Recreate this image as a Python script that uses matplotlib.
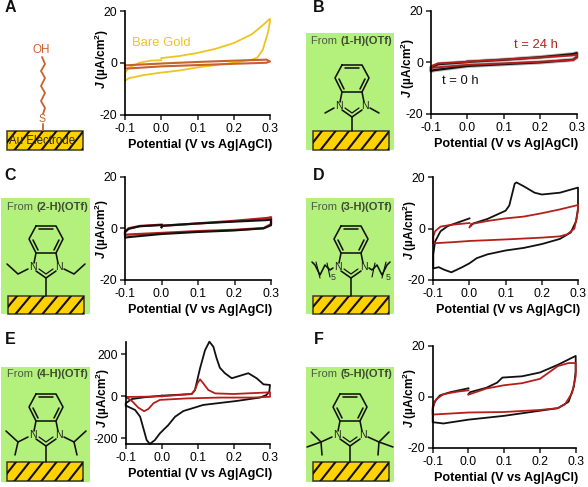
#!/usr/bin/env python3
"""Six cyclic voltammetry panels with surface schematics."""

import matplotlib
matplotlib.use("Agg")
import matplotlib.pyplot as plt
from matplotlib.patches import Rectangle

plt.rcParams["font.family"] = ["Liberation Sans", "DejaVu Sans"]
plt.rcParams["axes.unicode_minus"] = False
plt.rcParams["mathtext.fontset"] = "custom"
plt.rcParams["mathtext.rm"] = "Liberation Sans:bold"
plt.rcParams["mathtext.bf"] = "Liberation Sans:bold"
plt.rcParams["mathtext.it"] = "Liberation Sans:italic:bold"

W, H = 588, 487

# ---------------------------------------------------------------------------
# Data
# ---------------------------------------------------------------------------

X_TICKS = [-0.1, 0.0, 0.1, 0.2, 0.3]
Y_TICKS = [-20, 0, 20]
E_TICKS = [-200, 0, 200]

a_gold_v = [0, 0.05, 0.1, 0.15, 0.2, 0.25, 0.28, 0.3, 0.3, 0.295, 0.28, 0.265, 0.25, 0.2, 0.15, 0.1, 0.05, 0, -0.05, -0.09, -0.1, -0.1, -0.09, -0.06, -0.03, 0]
a_gold_j = [1.8, 2.6, 3.8, 5.4, 7.6, 11, 14.5, 17, 16, 12, 5, 2, 1.2, 0, -0.9, -1.8, -3, -3.8, -4.8, -6, -7, -4, -2, 0, 0.8, 1]
a_sam_v = [-0.1, 0, 0.1, 0.2, 0.29, 0.3, 0.29, 0.2, 0.1, 0, -0.09, -0.1, -0.1]
a_sam_j = [-1.0, -0.3, 0.3, 0.8, 1.2, 0.5, 0.0, -0.4, -0.9, -1.4, -2.2, -2.2, -1.0]

b_black_v = [0, 0.1, 0.2, 0.29, 0.3, 0.3, 0.29, 0.2, 0.1, 0, -0.09, -0.1, -0.1, -0.08, 0]
b_black_j = [0.2, 1.0, 2.0, 3.2, 3.6, 2, 1, 0, -0.7, -1.4, -3, -3.3, -2, -0.7, 0.1]
b_red_v = [0, 0.1, 0.2, 0.29, 0.3, 0.3, 0.29, 0.2, 0.1, 0, -0.09, -0.1, -0.1, -0.08, 0]
b_red_j = [0.3, 1.1, 1.9, 2.7, 3.0, 1.8, 0.9, 0.2, -0.4, -1.0, -2, -2.2, -1.5, -0.4, 0.2]

c_black_v = [0, 0.002, 0.1, 0.2, 0.29, 0.3, 0.3, 0.28, 0.2, 0.1, 0, -0.09, -0.1, -0.1, -0.09, -0.06, 0]
c_black_j = [0.4, 1.0, 1.9, 2.6, 3.2, 3.4, 1.2, 0, -0.8, -1.4, -2.2, -3.4, -3.6, -1.5, -0.2, 0.8, 1.3]
c_red_v = [0, 0.002, 0.1, 0.2, 0.29, 0.3, 0.3, 0.28, 0.2, 0.1, 0, -0.09, -0.1, -0.1, -0.09, -0.06, 0]
c_red_j = [0.5, 1.0, 1.9, 2.9, 4.0, 4.3, 1.6, 0.1, -0.6, -1.1, -1.8, -2.4, -2.5, -1.2, 0, 0.9, 1.4]

d_black_v = [0.003, 0.01, 0.05, 0.1, 0.11, 0.125, 0.13, 0.15, 0.18, 0.2, 0.25, 0.3, 0.3, 0.295, 0.28, 0.25, 0.2, 0.15, 0.1, 0.05, 0.02, 0, -0.02, -0.05, -0.07, -0.085, -0.1, -0.1, -0.095, -0.08, -0.06, -0.03, 0]
d_black_j = [1, 2, 3.8, 7, 9, 17.5, 18, 16.5, 14, 13.3, 14, 16, 8, 3, -1.5, -4, -6, -7.5, -8.5, -10, -11.5, -13.5, -15, -17, -16, -15, -15.5, -10, -5, -1, 1, 2.5, 4]
d_red_v = [0, 0.005, 0.05, 0.1, 0.15, 0.2, 0.25, 0.3, 0.3, 0.29, 0.27, 0.25, 0.2, 0.1, 0, -0.05, -0.1, -0.1, -0.095, -0.08, -0.05, 0]
d_red_j = [0.5, 1.8, 3, 4, 4.7, 6, 7.5, 9.2, 7, 0, -2.2, -3, -3.5, -4.2, -4.8, -5.3, -5.7, -3, -1, 0.8, 1.5, 2.2]

e_black_v = [0, 0.083, 0.092, 0.106, 0.12, 0.132, 0.143, 0.152, 0.161, 0.175, 0.194, 0.217, 0.24, 0.263, 0.282, 0.3, 0.298, 0.29, 0.272, 0.208, 0.115, 0.06, 0.037, 0.018, -0.005, -0.019, -0.033, -0.042, -0.051, -0.06, -0.074, -0.1, -0.1, -0.083, -0.05, 0]
e_black_j = [3, 11, 30, 133, 220, 260, 236, 181, 136, 110, 86, 98, 110, 86, 57, 54, 22, 6, -6, -22, -41, -70, -97, -137, -176, -208, -227, -208, -152, -97, -65, -44, -33, -13, -5, 3]
e_red_v = [0, 0.083, 0.092, 0.099, 0.106, 0.115, 0.129, 0.148, 0.198, 0.3, 0.3, 0.254, 0.161, 0.069, -0.005, -0.023, -0.037, -0.049, -0.065, -0.083, -0.1, -0.05, 0]
e_red_j = [0, 11, 30, 62, 81, 62, 30, 14, 11, 19, -2, -6, -6, -10, -17, -33, -60, -71, -54, -22, -3, -2, 0]

f_black_v = [0, 0.005, 0.05, 0.08, 0.095, 0.15, 0.2, 0.25, 0.3, 0.3, 0.295, 0.28, 0.25, 0.2, 0.1, 0, -0.07, -0.1, -0.1, -0.095, -0.08, -0.05, 0]
f_black_j = [1, 1.8, 3.5, 5.5, 7.5, 8, 9.5, 12.5, 16, 10, 4, -2, -4.5, -5.5, -7.5, -9, -10.5, -10, -5, -2, 0.5, 1.8, 3.3]
f_red_v = [0, 0.05, 0.1, 0.15, 0.2, 0.25, 0.28, 0.3, 0.3, 0.29, 0.27, 0.25, 0.2, 0.1, 0, -0.1, -0.1, -0.09, -0.07, -0.03, 0]
f_red_j = [0.8, 3.2, 4.5, 5.3, 7, 12, 13.2, 13.2, 8, 1.5, -3, -4.5, -5.2, -6, -6.2, -7, -4, -1, 1, 2, 2.5]

GOLD = "#EDC51E"
SAM = "#C8622C"
BLACK = "#111111"
RED = "#B3201C"
GREEN = "#B4F07C"
PLATE = "#FFD200"
LABEL = "#4E5A40"

# ---------------------------------------------------------------------------
# Helpers
# ---------------------------------------------------------------------------

fig = plt.figure(figsize=(W / 100, H / 100), dpi=100)

# overlay in pixel coordinates for the schematics and panel letters
ov = fig.add_axes([0, 0, 1, 1])
ov.set_xlim(0, W)
ov.set_ylim(H, 0)
ov.axis("off")


def cv_axes(left, right, top, bottom, ylim, yticks, label_y):
    width = right - left
    height = bottom - top
    ax = fig.add_axes([left / W, 1 - bottom / H, width / W, height / H])
    ax.patch.set_alpha(0)
    ax.set_xlim(-0.1, 0.3)
    ax.set_ylim(*ylim)
    ax.set_xticks(X_TICKS, [f"{v:.1f}" for v in X_TICKS])
    ax.set_yticks(yticks)
    ax.tick_params(labelsize=8.8, length=3.3, width=1.1, pad=2.5, color="#222222")
    for side in ("top", "right"):
        ax.spines[side].set_visible(False)
    for side in ("left", "bottom"):
        ax.spines[side].set_linewidth(1.2)
    ax.set_xlabel("Potential (V vs Ag|AgCl)", fontsize=9.1, fontweight="bold", va="center")
    ax.xaxis.set_label_coords(0.515, -30.5 / height)
    ax.set_ylabel(r"$\mathit{J}$ (µA/cm$^{\mathbf{2}}$)", fontsize=8.6, fontweight="bold", va="center")
    ax.yaxis.set_label_coords(-23 / width, label_y)
    return ax


def trace(ax, v, j, color, lw=1.3, **kw):
    ax.plot(v, j, color=color, lw=lw, clip_on=False, solid_joinstyle="round", **kw)


def seg(pts, color=BLACK, lw=1.15):
    ov.plot([p[0] for p in pts], [p[1] for p in pts], color=color, lw=lw,
            solid_capstyle="round", solid_joinstyle="round")


def plate(x0, x1, y0, y1):
    box = Rectangle((x0, y0), x1 - x0, y1 - y0, fc=PLATE, ec="#3A3A2A", lw=1.1, zorder=2)
    ov.add_patch(box)
    x = x0 - 6
    while x < x1:
        line, = ov.plot([x, x + 15], [y1, y0], color=BLACK, lw=1.5, zorder=3)
        line.set_clip_path(box)
        x += 13.5


def molecule(cx, cy, lift, kind):
    # cx, cy is where the stalk meets the plate; lift makes the stalk longer
    def p(x, y):
        return (cx + x, cy + y - lift)

    hexagon = [(-10, -66), (10, -66), (17, -53), (10, -39), (-10, -39), (-17, -53), (-10, -66)]
    seg([p(*q) for q in hexagon])
    seg([p(-7, -63), p(7, -63)])
    seg([p(-13, -52), p(-8, -42)])
    seg([p(13, -52), p(8, -42)])
    seg([p(-10, -39), p(-12, -29)])
    seg([p(10, -39), p(12, -29)])
    seg([p(-10, -21), p(0, -14), p(10, -21)])
    seg([p(-7, -23), p(0, -18), p(7, -23)], lw=0.9)
    seg([(cx, cy - 14 - lift), (cx, cy)])
    for s in (-1, 1):
        ov.text(*p(s * 13, -25), "N", fontsize=7.6, ha="center", va="center", color="#222222")
        if kind == "me":
            seg([p(s * 18, -23), p(s * 27, -18)])
        elif kind == "et":
            seg([p(s * 18, -23), p(s * 28, -18), p(s * 39, -28)])
        elif kind == "hex":
            seg([p(s * 18, -24), p(s * 21, -22), p(s * 26, -27), p(s * 31, -17), p(s * 36, -27), p(s * 39, -30)])
            seg([p(s * 24, -29), p(s * 21, -15)], lw=0.8)
            seg([p(s * 35, -30), p(s * 31, -14)], lw=0.8)
            lab = p(-18, -14) if s < 0 else p(37, -14)
            ov.text(*lab, "5", fontsize=6.4, ha="center", va="center", color="#333333")
        elif kind == "ipr":
            seg([p(s * 18, -23), p(s * 28, -18), p(s * 40, -29)])
            seg([p(s * 28, -18), p(s * 31, -5)])
        elif kind == "tbu":
            seg([p(s * 18, -23), p(s * 29, -18), p(s * 39, -28)])
            seg([p(s * 29, -18), p(s * 43, -13)])
            seg([p(s * 29, -18), p(s * 28, -5)])


def green_panel(x0, x1, y0, y1, text_x, text_y, bold):
    ov.add_patch(Rectangle((x0, y0), x1 - x0, y1 - y0, fc=GREEN, ec="none", zorder=0))
    t = ov.text(text_x, text_y, "From ", fontsize=8, color=LABEL, va="center")
    ov.annotate(bold, xy=(1, 0.5), xycoords=t, fontsize=8, fontweight="bold",
                color="#3E4A34", va="center")


def letter(x, y, s):
    ov.text(x, y, s, fontsize=11.5, fontweight="bold", ha="center", va="center", color=BLACK)


# ---------------------------------------------------------------------------
# Schematics
# ---------------------------------------------------------------------------

letter(10, 8, "A")
letter(319, 8, "B")
letter(10, 175, "C")
letter(319, 175, "D")
letter(10, 340, "E")
letter(319, 340, "F")

plate(7, 83, 131, 150)
ov.text(42, 141.5, "Au Electrode", fontsize=8.3, ha="center", va="center", color="#2E2A10", zorder=4)
seg([(43, 131), (43, 124)], SAM, lw=1.3)
ov.text(42.5, 119, "S", fontsize=7.6, ha="center", va="center", color=SAM)
seg([(43, 114), (45, 108), (41, 101), (45, 93), (41, 86), (45, 78), (41, 71), (45, 64), (42, 57)], SAM, lw=1.3)
ov.text(41, 50, "OH", fontsize=8.4, ha="center", va="center", color=SAM)

green_panel(306, 394, 33, 150, 311, 41, "(1-H)(OTf)")
plate(313, 389, 131, 150)
molecule(352, 131, 0, "me")

green_panel(1, 90, 198, 314, 7, 207, "(2-H)(OTf)")
plate(8, 84, 296, 314)
molecule(46, 296, 4, "et")

green_panel(306, 394, 198, 314, 311, 207, "(3-H)(OTf)")
plate(313, 389, 296, 314)
molecule(351, 296, 4, "hex")

green_panel(1, 90, 367, 482, 7, 374, "(4-H)(OTf)")
plate(7, 83, 462, 481)
molecule(46, 462, 2, "ipr")

green_panel(306, 394, 367, 482, 311, 374, "(5-H)(OTf)")
plate(313, 389, 462, 481)
molecule(350, 462, 2, "tbu")

# ---------------------------------------------------------------------------
# CV panels
# ---------------------------------------------------------------------------

ax = cv_axes(125, 270, 11, 114.5, (-20, 20), Y_TICKS, 0.536)
trace(ax, a_gold_v, a_gold_j, GOLD)
trace(ax, a_sam_v, a_sam_j, SAM, lw=1.5)
ax.text(0.0, 7.8, "Bare Gold", fontsize=9.4, color=GOLD, ha="center", va="center")

ax = cv_axes(431, 576.7, 10.7, 114, (-20, 20), Y_TICKS, 0.45)
trace(ax, b_black_v, b_black_j, "#BBBBBB", lw=3)
trace(ax, b_black_v, b_black_j, BLACK, lw=1.6)
trace(ax, b_red_v, b_red_j, RED, lw=1.4)
ax.text(0.187, 6.7, "t = 24 h", fontsize=9.4, color=RED, ha="center", va="center")
ax.text(-0.02, -7.4, "t = 0 h", fontsize=9.4, color=BLACK, ha="center", va="center")

ax = cv_axes(125, 271, 176.7, 280, (-20, 20), Y_TICKS, 0.495)
trace(ax, c_red_v, c_red_j, RED, lw=1.7)
trace(ax, c_black_v, c_black_j, BLACK, lw=1.5)

ax = cv_axes(433.3, 578, 177.3, 280, (-20, 20), Y_TICKS, 0.49)
trace(ax, d_black_v, d_black_j, BLACK)
trace(ax, d_red_v, d_red_j, RED)

ax = cv_axes(125.7, 270, 341.7, 444, (-227, 260), E_TICKS, 0.45)
trace(ax, e_black_v, e_black_j, BLACK)
trace(ax, e_red_v, e_red_j, RED)

ax = cv_axes(432.7, 575.7, 345.7, 447.7, (-20, 20), Y_TICKS, 0.49)
trace(ax, f_black_v, f_black_j, BLACK)
trace(ax, f_red_v, f_red_j, RED)

fig.savefig("out.png", dpi=100)
